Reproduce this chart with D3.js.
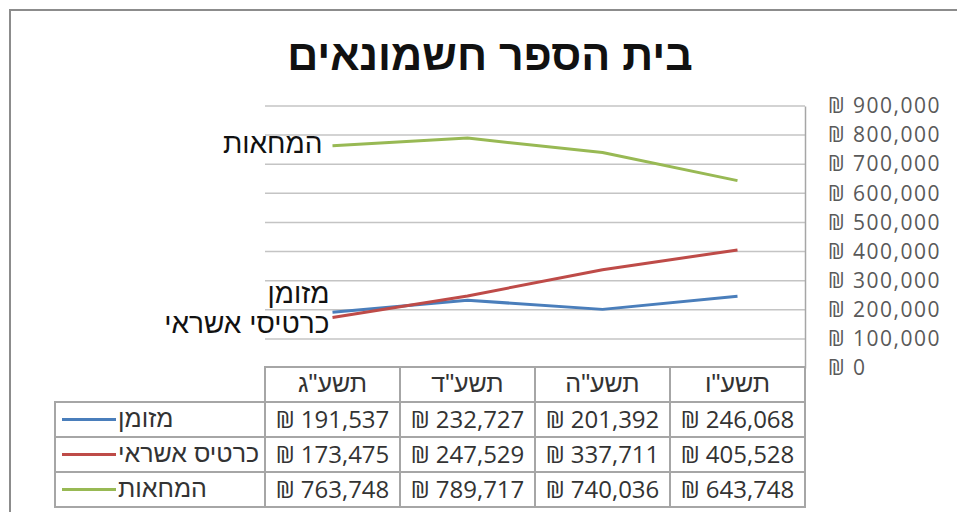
<!DOCTYPE html>
<html>
<head>
<meta charset="utf-8">
<script src="https://cdn.jsdelivr.net/npm/d3@7"></script>
<style>
  html, body { margin: 0; padding: 0; background: #fff; }
  svg { display: block; }
</style>
</head>
<body>
<svg id="chart" width="957" height="512"></svg>
<script>
// years (Hebrew calendar), left to right
const categories = ['תשע"ג', 'תשע"ד', 'תשע"ה', 'תשע"ו'];

// series
const seriesNames = ["מזומן", "כרטיס אשראי", "המחאות"];
const cash   = [191537, 232727, 201392, 246068];
const credit = [173475, 247529, 337711, 405528];
const checks = [763748, 789717, 740036, 643748];

// in-plot labels (next to the first point)
const plotLabels = ["מזומן", "כרטיסי אשראי", "המחאות"];

const yTicks = [0, 100000, 200000, 300000, 400000, 500000, 600000, 700000, 800000, 900000];

const colors = ["#4a7ebb", "#be4b48", "#98b954"];
const seriesValues = [cash, credit, checks];

const HEB = "'Liberation Sans', Arial, sans-serif";
const NUM = "'Open Sans', 'Liberation Sans', sans-serif";

const svg = d3.select("#chart");

// chart frame
svg.append("rect")
    .attr("x", 10).attr("y", 10)
    .attr("width", 1000).attr("height", 600)
    .attr("fill", "none")
    .attr("stroke", "#8c8c8c")
    .attr("stroke-width", 2);

// title
svg.append("text")
    .attr("x", 490).attr("y", 70)
    .attr("text-anchor", "middle")
    .attr("font-family", HEB)
    .attr("font-weight", "bold")
    .attr("font-size", 43)
    .attr("fill", "#111")
    .text("בית הספר חשמונאים");

const plot = { left: 265, right: 805, top: 106, bottom: 368 };

const x = d3.scaleBand()
    .domain(categories)
    .range([plot.left, plot.right]);

const y = d3.scaleLinear()
    .domain([0, 900000])
    .range([plot.bottom, plot.top]);

const cx = c => x(c) + x.bandwidth() / 2;

// gridlines
svg.append("g")
    .selectAll("line")
    .data(yTicks.filter(t => t > 0))
    .enter().append("line")
    .attr("x1", plot.left).attr("x2", plot.right)
    .attr("y1", d => y(d)).attr("y2", d => y(d))
    .attr("stroke", "#c4c4c4")
    .attr("stroke-width", 1.5);

// right value axis
const fmt = d3.format(",");
const axis = svg.append("g")
    .attr("transform", `translate(${plot.right},0)`)
    .call(d3.axisRight(y).tickValues(yTicks).tickSize(0).tickPadding(23)
        .tickFormat(d => "₪ " + fmt(d)));
axis.select(".domain")
    .attr("stroke", "#a6a6a6")
    .attr("stroke-width", 1.5);
axis.selectAll("text")
    .attr("font-family", NUM)
    .attr("font-size", 21)
    .attr("letter-spacing", 1.5)
    .attr("fill", "#595959")
    .attr("text-anchor", "start");

// lines
const line = d3.line()
    .x((d, i) => cx(categories[i]))
    .y(d => y(d));

svg.append("g")
    .selectAll("path")
    .data(seriesValues)
    .enter().append("path")
    .attr("d", line)
    .attr("fill", "none")
    .attr("stroke", (d, i) => colors[i])
    .attr("stroke-width", 3)
    .attr("stroke-linejoin", "round");

// labels at the start of each line
const labelDx = [-3, -3, -10];
const labelDy = [-9, 16, 7];
svg.append("g")
    .selectAll("text")
    .data(seriesValues)
    .enter().append("text")
    .attr("x", (d, i) => cx(categories[0]) + labelDx[i])
    .attr("y", (d, i) => y(d[0]) + labelDy[i])
    .attr("text-anchor", "end")
    .attr("font-family", HEB)
    .attr("font-size", 28)
    .attr("fill", "#111")
    .text((d, i) => plotLabels[i]);

// data table
const rowH = 35;
const tableTop = plot.bottom - 1;
const legendLeft = 55;
const border = "#a6a6a6";
const tbl = svg.append("g");

// header row
tbl.append("rect")
    .attr("x", plot.left).attr("y", tableTop)
    .attr("width", plot.right - plot.left).attr("height", rowH)
    .attr("fill", "none").attr("stroke", border).attr("stroke-width", 2);

tbl.selectAll("line.col")
    .data(categories.slice(1))
    .enter().append("line")
    .attr("class", "col")
    .attr("x1", d => x(d)).attr("x2", d => x(d))
    .attr("y1", tableTop).attr("y2", tableTop + rowH * 4)
    .attr("stroke", border).attr("stroke-width", 2);

tbl.selectAll("text.head")
    .data(categories)
    .enter().append("text")
    .attr("class", "head")
    .attr("x", d => cx(d))
    .attr("y", tableTop + rowH / 2 + 7)
    .attr("text-anchor", "middle")
    .attr("font-family", HEB)
    .attr("font-size", 25)
    .attr("fill", "#333")
    .text(d => d);

// body rows
seriesValues.forEach((vals, i) => {
    const top = tableTop + rowH * (i + 1);
    const mid = top + rowH / 2;
    tbl.append("rect")
        .attr("x", legendLeft).attr("y", top)
        .attr("width", plot.right - legendLeft).attr("height", rowH)
        .attr("fill", "none").attr("stroke", border).attr("stroke-width", 2);
    tbl.append("line")
        .attr("x1", plot.left).attr("x2", plot.left)
        .attr("y1", top).attr("y2", top + rowH)
        .attr("stroke", border).attr("stroke-width", 2);
    // legend key
    tbl.append("line")
        .attr("x1", 62).attr("x2", 116)
        .attr("y1", mid).attr("y2", mid)
        .attr("stroke", colors[i]).attr("stroke-width", 3);
    tbl.append("text")
        .attr("x", 118).attr("y", mid + 7)
        .attr("font-family", HEB)
        .attr("font-size", 25)
        .attr("fill", "#333")
        .text(seriesNames[i]);
    tbl.selectAll(null)
        .data(vals)
        .enter().append("text")
        .attr("x", (d, j) => cx(categories[j]))
        .attr("y", mid + 8.5)
        .attr("text-anchor", "middle")
        .attr("font-family", NUM)
        .attr("font-size", 24)
        .attr("fill", "#333")
        .text(d => "₪ " + fmt(d));
});
</script>
</body>
</html>
